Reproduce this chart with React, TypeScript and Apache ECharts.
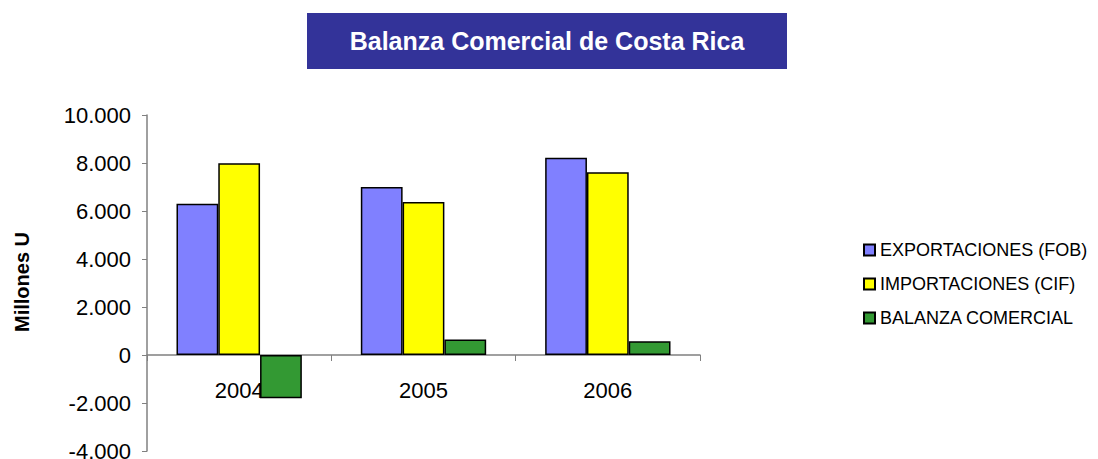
import React, { useEffect, useRef } from "react";
import * as echarts from "echarts";

const years = ["2004", "2005", "2006"];
const exportaciones = [6300, 7000, 8220];
const importaciones = [7990, 6380, 7610];
const balanza = [-1800, 650, 570];
const seriesNames = ["EXPORTACIONES (FOB)", "IMPORTACIONES (CIF)", "BALANZA COMERCIAL"];
const seriesColors = ["#8080FF", "#FFFF00", "#339933"];
const titleText = "Balanza Comercial de Costa Rica";
const yAxisName = "Millones U";

const fmt = (v: number) => {
  const s = Math.abs(v).toString().replace(/\B(?=(\d{3})+(?!\d))/g, ".");
  return (v < 0 ? "-" : "") + s;
};

export default function App() {
  const ref = useRef<HTMLDivElement>(null);
  useEffect(() => {
    if (!ref.current) return;
    const chart = echarts.init(ref.current, undefined, { renderer: "svg" });
    const font = "'Liberation Sans', Arial, sans-serif";
    const data = [exportaciones, importaciones, balanza];
    chart.setOption({
      animation: false,
      backgroundColor: "#ffffff",
      textStyle: { fontFamily: font },
      graphic: [
        {
          type: "rect",
          shape: { x: 307, y: 13, width: 480, height: 56 },
          style: { fill: "#333399" },
        },
        {
          type: "text",
          x: 547,
          y: 41,
          style: {
            text: titleText,
            fill: "#ffffff",
            font: `bold 25px ${font}`,
            align: "center",
            verticalAlign: "middle",
          },
        },
        {
          type: "text",
          x: 22,
          y: 282,
          rotation: Math.PI / 2,
          style: {
            text: yAxisName,
            fill: "#000000",
            font: `bold 20px ${font}`,
            align: "center",
            verticalAlign: "middle",
          },
        },
      ],
      legend: {
        orient: "vertical",
        left: 858,
        top: 236,
        itemWidth: 11,
        itemHeight: 11,
        itemGap: 16,
        icon: "rect",
        textStyle: { fontSize: 18, color: "#000", fontFamily: font },
        data: seriesNames,
      },
      grid: [
        { left: 147, right: 398, top: 115, bottom: 8, containLabel: false, outerBoundsMode: "none" },
        { left: 147, right: 398, top: 115, bottom: 104, containLabel: false, outerBoundsMode: "none" },
      ],
      xAxis: [
        {
          type: "category",
          data: years,
          gridIndex: 0,
          axisLine: { onZero: true, lineStyle: { color: "#808080", width: 1.5 } },
          axisTick: { show: true, length: 6, lineStyle: { color: "#808080" } },
          axisLabel: { show: false },
          splitLine: { show: false },
        },
        {
          type: "category",
          data: years,
          gridIndex: 1,
          position: "bottom",
          axisLine: { show: false },
          axisTick: { show: false },
          axisLabel: { fontSize: 22, color: "#000", margin: 24, fontFamily: font },
          splitLine: { show: false },
        },
      ],
      yAxis: [
        {
          type: "value",
          gridIndex: 0,
          min: -4000,
          max: 10000,
          interval: 2000,
          axisLine: { show: true, lineStyle: { color: "#808080", width: 1.5 } },
          axisTick: { show: true, length: 5, lineStyle: { color: "#808080" } },
          axisLabel: { fontSize: 22, color: "#000", margin: 16, formatter: fmt, fontFamily: font },
          splitLine: { show: false },
        },
        {
          type: "value",
          gridIndex: 1,
          min: 0,
          max: 10000,
          show: false,
        },
      ],
      series: seriesNames.map((name, i) => ({
        name,
        type: "bar",
        data: data[i],
        barGap: "0%",
        barCategoryGap: "32%",
        z: 3,
        itemStyle: { color: seriesColors[i], borderColor: "#000", borderWidth: 1.5 },
      })),
    });
    return () => chart.dispose();
  }, []);
  return <div ref={ref} style={{ width: 1098, height: 459, position: "absolute", left: 0, top: 0 }} />;
}
